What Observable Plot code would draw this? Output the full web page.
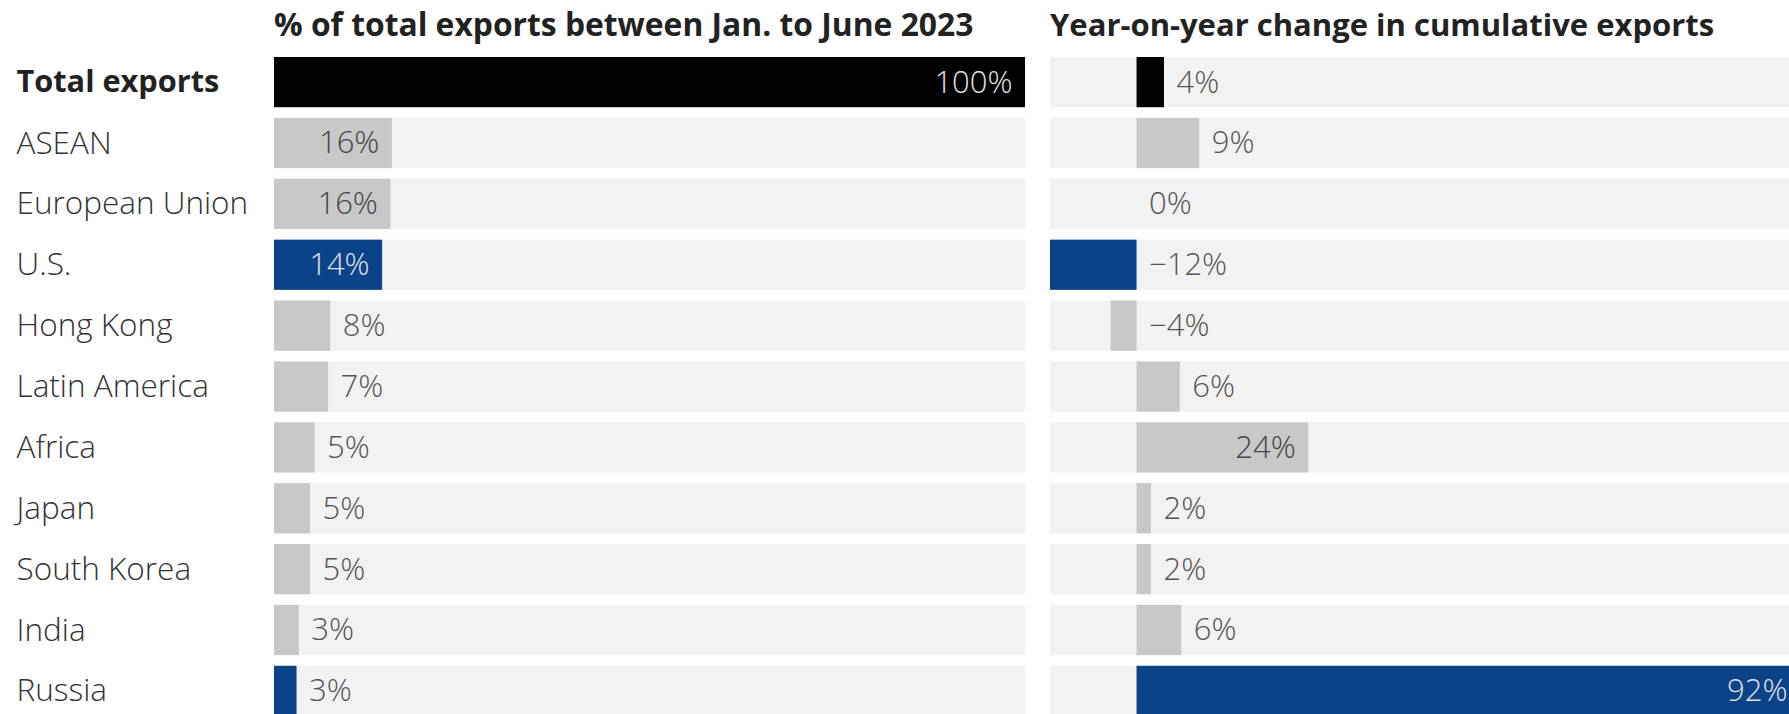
<!DOCTYPE html>
<html><head><meta charset="utf-8">
<script src="https://cdn.jsdelivr.net/npm/d3@7"></script>
<script src="https://cdn.jsdelivr.net/npm/@observablehq/plot@0.6"></script>
<style>
html,body{margin:0;padding:0;background:#fff;overflow:hidden;}
#chart{position:relative;width:1789px;height:714px;overflow:hidden;font-family:"Open Sans",Lato,sans-serif;}
.title{position:absolute;top:6px;font-weight:700;color:#222;white-space:nowrap;line-height:36px;}
.panel{position:absolute;top:0;}
.panel svg{max-width:none !important;}
</style></head><body>
<div id="chart">
  <div class="title" id="t1" style="left:274px;font-size:31.8px"></div>
  <div class="title" id="t2" style="left:1050px;font-size:31px"></div>
  <div class="panel" id="p1" style="left:0;width:1040px"></div>
  <div class="panel" id="p2" style="left:1040px;width:760px"></div>
</div>
<script>
const regions = ["Total exports","ASEAN","European Union","U.S.","Hong Kong","Latin America","Africa","Japan","South Korea","India","Russia"];
const share = [100,15.7,15.5,14.4,7.5,7.2,5.4,4.8,4.8,3.3,3.0];
const yoy = [3.8,8.7,0,-12,-3.6,6.0,23.8,2,2,6.2,92];
const highlighted = ["U.S.","Russia"];
const totalRow = "Total exports";
const titles = ["% of total exports between Jan. to June 2023","Year-on-year change in cumulative exports"];
const shareDomain = [0,100];
const yoyDomain = [-12,92];
const insideMin = 10;

const C = {total:"#000000", highlight:"#0b4389", other:"#c8c8c8", track:"#f2f2f2",
           lightText:"#e2e2e2", darkText:"#444444", outText:"#555555", label:"#333333"};
const FONT = '"Open Sans", Lato, sans-serif';

const rows = regions.map((name,i)=>({name, share:share[i], yoy:yoy[i]}));
const barFill = d => d.name===totalRow ? C.total : highlighted.includes(d.name) ? C.highlight : C.other;
const fmt = v => { const r = Math.round(v); return (r<0 ? "\u2212"+Math.abs(r) : String(r)) + "%"; };

document.getElementById("t1").textContent = titles[0];
document.getElementById("t2").textContent = titles[1];

function panel(key, domain, opts){
  const inside = rows.filter(d => d[key] >= insideMin);
  const outside = rows.filter(d => d[key] < insideMin);
  const {yAxis, ...size} = opts;
  return Plot.plot({
    ...size,
    height: 720, marginTop: 57, marginBottom: 4,
    x: {domain, axis: null},
    y: {domain: regions, paddingInner: 0.175, paddingOuter: 0, align: 0, round: false, label: null, ...(yAxis ? {} : {axis: null})},
    color: {type: "identity"},
    style: {fontFamily: FONT, background: "transparent", overflow: "visible", maxWidth: "none"},
    marks: [
      Plot.barX(regions, {y: d=>d, x1: () => domain[0], x2: () => domain[1], fill: C.track}),
      Plot.barX(rows, {y: "name", x1: () => 0, x2: key, fill: barFill}),
      Plot.text(inside, {y: "name", x: key, text: d=>fmt(d[key]), textAnchor: "end", dx: -13,
        fontSize: 31, fontWeight: 300,
        fill: d => (d.name===totalRow || highlighted.includes(d.name)) ? C.lightText : C.darkText}),
      Plot.text(outside, {y: "name", x: d=>Math.max(0,d[key]), text: d=>fmt(d[key]), textAnchor: "start", dx: 12,
        fontSize: 31, fontWeight: 300, fill: C.outText}),
      ...(yAxis ? [
        Plot.axisY([totalRow], {tickSize: 0, tickPadding: 258, textAnchor: "start", label: null, fontSize: 30.7, fontWeight: 700, fill: "#222"}),
        Plot.axisY(regions.filter(r => r!==totalRow), {tickSize: 0, tickPadding: 258, textAnchor: "start", label: null, fontSize: 31.5, fontWeight: 300, fill: C.label})
      ] : [])
    ]
  });
}

document.getElementById("p1").appendChild(panel("share", shareDomain, {width: 1040, marginLeft: 274, marginRight: 15, yAxis: true}));
document.getElementById("p2").appendChild(panel("yoy", yoyDomain, {width: 760, marginLeft: 10, marginRight: 0}));
</script>
</body></html>
